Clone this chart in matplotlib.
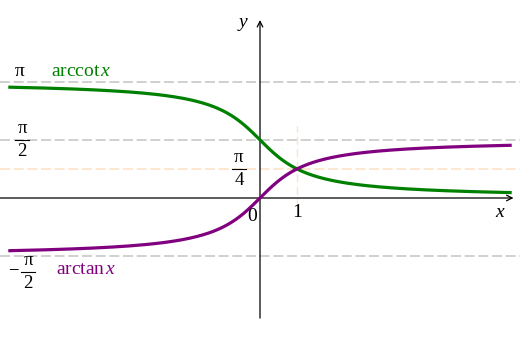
import numpy as np
import matplotlib
matplotlib.use("Agg")
import matplotlib.pyplot as plt

plt.rcParams['mathtext.fontset'] = 'custom'
plt.rcParams['mathtext.rm'] = 'Liberation Serif'
plt.rcParams['mathtext.it'] = 'Liberation Serif:italic'
plt.rcParams['font.family'] = ['Liberation Serif', 'DejaVu Serif']

# data
x_domain = [-6.76, 6.76]
gray_levels = [np.pi, np.pi / 2, -np.pi / 2]
orange_level = np.pi / 4
mark_x = 1.0
curve_names = ["arccot", "arctan"]
curve_colors = ["#008000", "#800080"]

x = np.linspace(x_domain[0], x_domain[1], 600)
arctan_y = np.arctan(x)
arccot_y = np.pi / 2 - np.arctan(x)

fig = plt.figure(figsize=(5.2, 3.44), dpi=100)
ax = fig.add_axes([0, 0, 1, 1])
ax.set_xlim(-260 / 37, 260 / 37)
ax.set_ylim(-146 / 37, 198 / 37)
ax.axis('off')

for lv in gray_levels:
    ax.axhline(lv, color='#c8c8c8', lw=1.2, ls=(0, (6, 2.2)), zorder=1)
ax.axhline(orange_level, color='#fde3c8', lw=1.2, ls=(0, (6, 2.2)), zorder=1)
ax.plot([mark_x, mark_x], [-0.25, 1.95], color='#fde3c8', lw=1.0, ls=(0, (6, 3)), zorder=1)

# axes
ax.annotate('', xy=(253.5 / 37, 0), xytext=(-260 / 37, 0),
            arrowprops=dict(arrowstyle='->', color='black', lw=0.9, shrinkA=0, shrinkB=0), zorder=2)
ax.annotate('', xy=(0, 178 / 37), xytext=(0, -146 / 37 + 0.7),
            arrowprops=dict(arrowstyle='->', color='black', lw=0.9, shrinkA=0, shrinkB=0), zorder=2)

ax.plot(x, arccot_y, color=curve_colors[0], lw=2.3, zorder=3)
ax.plot(x, arctan_y, color=curve_colors[1], lw=2.3, zorder=3)


def frac(xc, yc, num, den, sign=False):
    ax.text(xc, yc + 0.3, num, fontsize=13.5, ha='center', va='center')
    ax.text(xc, yc - 0.32, den, fontsize=13.5, ha='center', va='center')
    ax.plot([xc - 0.2, xc + 0.2], [yc, yc], color='black', lw=0.8)
    if sign:
        ax.text(xc - 0.4, yc, '−', fontsize=13.5, ha='center', va='center')


fs = 14
ax.text(-6.5, 3.42, 'π', fontsize=fs, ha='center', va='center')
ax.text(-5.65, 3.42, r'arccot$\,x$', fontsize=fs, color=curve_colors[0], ha='left', va='center')
frac(-6.43, np.pi / 2, 'π', '2')
frac(-0.57, np.pi / 4, 'π', '4')
frac(-6.27, -2.0, 'π', '2', sign=True)
ax.text(-5.5, -1.93, r'arctan$\,x$', fontsize=fs, color=curve_colors[1], ha='left', va='center')
ax.text(-0.22, -0.5, '0', fontsize=fs, ha='center', va='center')
ax.text(1.0, -0.4, '1', fontsize=fs, ha='center', va='center')
ax.text(6.5, -0.38, r'$x$', fontsize=fs, ha='center', va='center')
ax.text(-0.45, 4.7, r'$y$', fontsize=fs, ha='center', va='center')

fig.savefig('out.png', dpi=100)
